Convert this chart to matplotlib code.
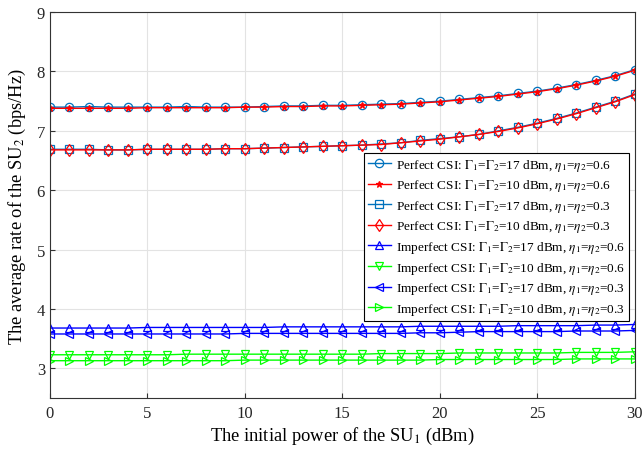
import numpy as np
import matplotlib
matplotlib.use('Agg')
import matplotlib.pyplot as plt

plt.rcParams['font.family'] = ['Liberation Serif', 'DejaVu Serif']
plt.rcParams['mathtext.fontset'] = 'stix'

# initial power of SU1 (dBm)
power = np.arange(0, 31)

# perfect CSI curves
perf_17_06 = [7.40, 7.40, 7.41, 7.40, 7.40, 7.40, 7.40, 7.41, 7.40, 7.40, 7.40,
              7.41, 7.42, 7.42, 7.43, 7.43, 7.44, 7.45, 7.46, 7.48, 7.50,
              7.53, 7.56, 7.59, 7.63, 7.67, 7.72, 7.78, 7.85, 7.93, 8.03]
perf_10_06 = [7.38, 7.38, 7.38, 7.38, 7.38, 7.39, 7.39, 7.39, 7.39, 7.39, 7.40,
              7.40, 7.41, 7.41, 7.42, 7.42, 7.43, 7.44, 7.45, 7.47, 7.49,
              7.52, 7.55, 7.58, 7.62, 7.66, 7.71, 7.77, 7.84, 7.92, 8.02]
perf_17_03 = [6.69, 6.69, 6.69, 6.68, 6.68, 6.69, 6.69, 6.69, 6.69, 6.70, 6.70,
              6.71, 6.72, 6.73, 6.74, 6.75, 6.76, 6.78, 6.80, 6.84, 6.87,
              6.90, 6.94, 7.00, 7.06, 7.13, 7.21, 7.30, 7.40, 7.50, 7.62]
perf_10_03 = [6.68, 6.68, 6.68, 6.68, 6.68, 6.69, 6.69, 6.69, 6.69, 6.70, 6.70,
              6.71, 6.72, 6.73, 6.74, 6.75, 6.76, 6.77, 6.80, 6.83, 6.86,
              6.90, 6.94, 6.99, 7.05, 7.12, 7.20, 7.29, 7.39, 7.49, 7.61]

# imperfect CSI curves
imp_17_06 = [3.68, 3.68, 3.68, 3.68, 3.68, 3.69, 3.69, 3.69, 3.69, 3.69, 3.69,
             3.69, 3.70, 3.70, 3.70, 3.70, 3.70, 3.70, 3.70, 3.71, 3.71,
             3.71, 3.71, 3.71, 3.72, 3.72, 3.72, 3.72, 3.73, 3.73, 3.74]
imp_10_06 = [3.23, 3.23, 3.23, 3.23, 3.23, 3.23, 3.23, 3.24, 3.24, 3.24, 3.24,
             3.24, 3.24, 3.24, 3.24, 3.24, 3.24, 3.25, 3.25, 3.25, 3.25,
             3.26, 3.26, 3.26, 3.26, 3.26, 3.26, 3.27, 3.27, 3.27, 3.28]
imp_17_03 = [3.58, 3.58, 3.58, 3.58, 3.58, 3.58, 3.58, 3.58, 3.58, 3.58, 3.59,
             3.59, 3.59, 3.59, 3.59, 3.59, 3.59, 3.59, 3.59, 3.60, 3.60,
             3.61, 3.62, 3.62, 3.62, 3.62, 3.62, 3.63, 3.63, 3.63, 3.64]
imp_10_03 = [3.13, 3.13, 3.13, 3.13, 3.13, 3.13, 3.13, 3.13, 3.13, 3.13, 3.14,
             3.14, 3.14, 3.14, 3.14, 3.14, 3.14, 3.14, 3.14, 3.14, 3.15,
             3.15, 3.15, 3.15, 3.15, 3.15, 3.15, 3.16, 3.16, 3.16, 3.16]

labels = [
    r'Perfect CSI: $\Gamma_1$=$\Gamma_2$=17 dBm, $\eta_1$=$\eta_2$=0.6',
    r'Perfect CSI: $\Gamma_1$=$\Gamma_2$=10 dBm, $\eta_1$=$\eta_2$=0.6',
    r'Perfect CSI: $\Gamma_1$=$\Gamma_2$=17 dBm, $\eta_1$=$\eta_2$=0.3',
    r'Perfect CSI: $\Gamma_1$=$\Gamma_2$=10 dBm, $\eta_1$=$\eta_2$=0.3',
    r'Imperfect CSI: $\Gamma_1$=$\Gamma_2$=17 dBm, $\eta_1$=$\eta_2$=0.6',
    r'Imperfect CSI: $\Gamma_1$=$\Gamma_2$=10 dBm, $\eta_1$=$\eta_2$=0.6',
    r'Imperfect CSI: $\Gamma_1$=$\Gamma_2$=17 dBm, $\eta_1$=$\eta_2$=0.3',
    r'Imperfect CSI: $\Gamma_1$=$\Gamma_2$=10 dBm, $\eta_1$=$\eta_2$=0.3',
]
series = [perf_17_06, perf_10_06, perf_17_03, perf_10_03,
          imp_17_06, imp_10_06, imp_17_03, imp_10_03]
colors = ['#0072BD', '#FF0000', '#0072BD', '#FF0000',
          '#0000FF', '#00FF00', '#0000FF', '#00FF00']
markers = ['o', '*', 's', 'd', '^', 'v', '<', '>']

fig = plt.figure(figsize=(6.44, 4.52), dpi=100)
ax = fig.add_axes([0.0776, 0.117, 0.908, 0.854])

for y, c, m, lab in zip(series, colors, markers, labels):
    filled = (m == '*')
    ax.plot(power, y, color=c, marker=m, lw=1.0, ms=5 if filled else 6,
            mfc=c if filled else 'none', mew=0.9, label=lab)

ax.set_xlim(0, 30)
ax.set_ylim(2.5, 9)
ax.set_xticks(np.arange(0, 31, 5))
ax.set_yticks(np.arange(3, 10, 1))
ax.grid(True, color='#e3e3e3', lw=0.8)
ax.set_axisbelow(True)
ax.tick_params(direction='in', labelsize=12, top=False, right=False,
               colors='#333333', labelcolor='#262626')
ax.tick_params(axis='x', pad=5)
for s in ax.spines.values():
    s.set_color('#333333')
    s.set_linewidth(0.8)

ax.set_xlabel('The initial power of the SU$_1$ (dBm)', fontsize=13.3, labelpad=3)
ax.set_ylabel('The average rate of the SU$_2$ (bps/Hz)', fontsize=13.3, labelpad=6)

leg = ax.legend(loc='lower right', bbox_to_anchor=(0.99, 0.2), fontsize=9.5,
                frameon=True, fancybox=False, edgecolor='black', framealpha=1,
                handlelength=1.8, borderpad=0.3, labelspacing=0.35,
                handletextpad=0.35, borderaxespad=0)
leg.get_frame().set_linewidth(0.8)

fig.savefig('out.png', dpi=100)
